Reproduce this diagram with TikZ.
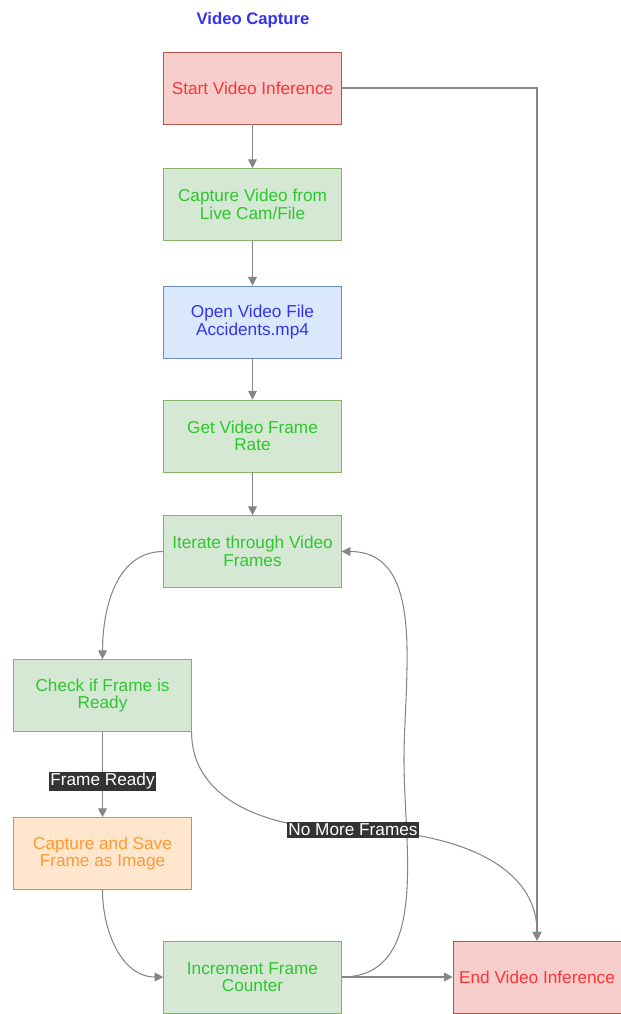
\documentclass[tikz,border=0pt]{standalone}
\usepackage{fontspec}
\setmainfont{Liberation Sans}
\usepackage{xcolor}
\usetikzlibrary{arrows.meta,positioning}

\definecolor{redfill}{HTML}{F8CECC}
\definecolor{redline}{HTML}{B85450}
\definecolor{greenfill}{HTML}{D5E8D4}
\definecolor{greenline}{HTML}{82B366}
\definecolor{bluefill}{HTML}{DAE8FC}
\definecolor{blueline}{HTML}{6C8EBF}
\definecolor{orangefill}{HTML}{FFE6CC}
\definecolor{orangeline}{HTML}{D79B00}
\definecolor{redtext}{HTML}{FF3333}
\definecolor{greentext}{HTML}{2DC72D}
\definecolor{bluetext}{HTML}{3333EE}
\definecolor{orangetext}{HTML}{FF9933}
\definecolor{edgegrey}{HTML}{858585}
\definecolor{labelbg}{HTML}{333333}

\begin{document}
\begin{tikzpicture}[x=0.02cm,y=-0.02cm,every node/.style={font=\fontsize{9.8pt}{10pt}\selectfont},
  box/.style={draw,align=center,minimum width=3.55cm,minimum height=1.44cm,inner sep=2pt},
  redbox/.style={box,fill=redfill,draw=redline,text=redtext},
  greenbox/.style={box,fill=greenfill,draw=greenline,text=greentext},
  bluebox/.style={box,fill=bluefill,draw=blueline,text=bluetext},
  orangebox/.style={box,fill=orangefill,draw=orangeline,text=orangetext},
  flow/.style={draw=edgegrey,line width=0.6pt,-{Triangle[length=5pt,width=5pt]}},
  edgelbl/.style={fill=labelbg,text=white,inner sep=1pt}]
  \useasboundingbox (0,0) rectangle (621,1014);
  \node[text=bluetext,font=\bfseries\fontsize{9.5pt}{11pt}\selectfont] (title) at (253,20) {Video Capture};
  % main column
  \node[redbox] (start) at (252.5,88) {Start Video Inference};
  \node[greenbox] (capture) at (252.5,204.5) {Capture Video from\\Live Cam/File};
  \node[bluebox] (open) at (252.5,322) {Open Video File\\Accidents.mp4};
  \node[greenbox] (rate) at (252.5,436) {Get Video Frame\\Rate};
  \node[greenbox] (iter) at (252.5,551.5) {Iterate through Video\\Frames};
  % left column
  \node[greenbox] (check) at (102.5,695.5) {Check if Frame is\\Ready};
  \node[orangebox] (save) at (102.5,853.5) {Capture and Save\\Frame as Image};
  \node[greenbox] (incr) at (252.5,977) {Increment Frame\\Counter};
  \node[redbox,minimum width=3.36cm] (end) at (537,977) {End Video Inference};
  \coordinate (bend) at (404,760);
  \coordinate (nomorept) at (353,830);

  \draw[flow] (start) -- (capture);
  \draw[flow] (capture) -- (open);
  \draw[flow] (open) -- (rate);
  \draw[flow] (rate) -- (iter);
  \draw[flow] (start.east) -| (end.north);
  \draw[flow] (iter.west) to[out=180,in=90] (check.north);
  \draw[flow] (check) -- node[edgelbl,pos=0.58]{Frame Ready} (save);
  \draw[draw=edgegrey,line width=0.6pt] (check.south east) to[out=-90,in=180] (nomorept);
  \draw[flow] (nomorept) to[out=0,in=90] (end.north);
  \draw[flow] (save.south) to[out=-90,in=180] (incr.west);
  \draw[flow] (incr) -- (end);
  \draw[flow] (incr.east) to[out=0,in=-90] (bend) to[out=90,in=0] (iter.east);
  \node[edgelbl] (nomore) at (nomorept) {No More Frames};
\end{tikzpicture}
\end{document}
